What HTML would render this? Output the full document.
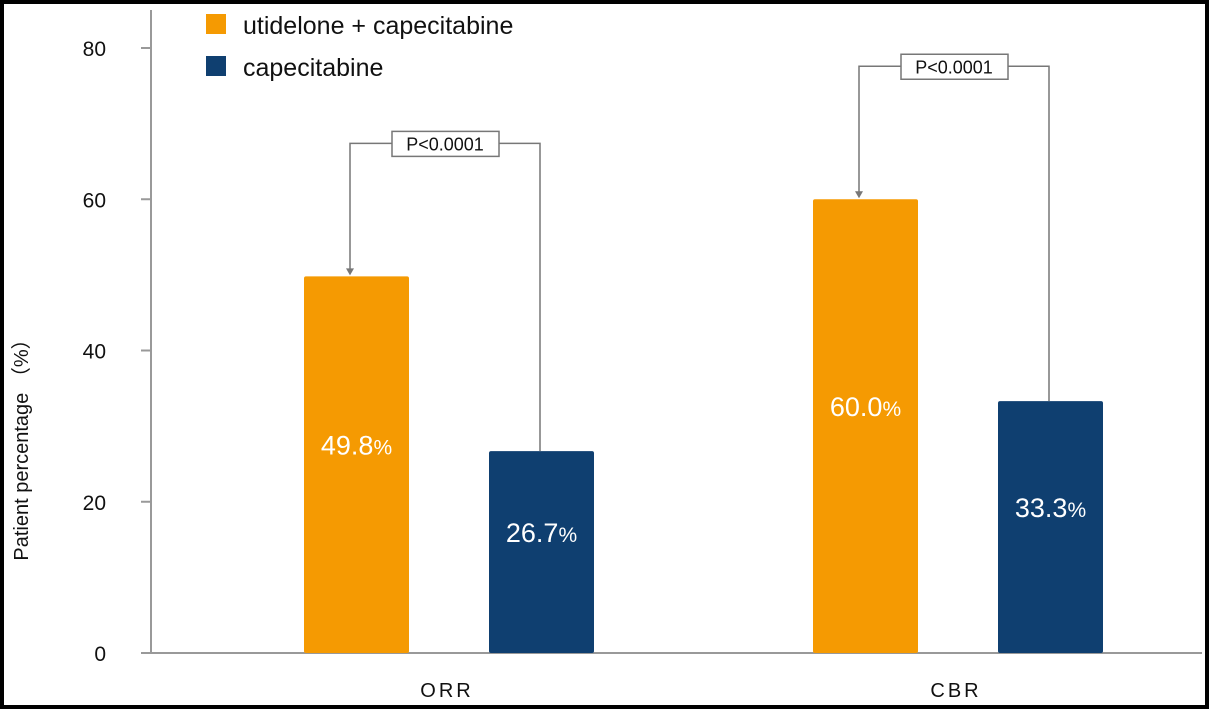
<!DOCTYPE html>
<html><head><meta charset="utf-8"><style>
html,body{margin:0;padding:0;background:#fff}
svg{display:block;font-family:"Liberation Sans",sans-serif}
</style></head><body>
<svg width="1209" height="709" viewBox="0 0 1209 709">
<rect x="2" y="2" width="1205" height="705" fill="#fff" stroke="#000" stroke-width="4"/>
<g id="axes"></g>
<g id="bars"></g>
<g id="ann"></g>
<g>
<rect x="206" y="14" width="20" height="20" fill="#f59a02"/>
<text x="243" y="34" font-size="25" fill="#111">utidelone + capecitabine</text>
<rect x="206" y="56" width="20" height="20" fill="#0f3f70"/>
<text x="243" y="76" font-size="25" fill="#111">capecitabine</text>
</g>
<text transform="translate(28,445) rotate(-90)" font-size="20" fill="#111" text-anchor="middle">Patient percentage （%）</text>
</svg>
<script>
const categories=["ORR","CBR"];
const comboValues=[49.8,60.0];
const capeValues=[26.7,33.3];
const yTicks=[0,20,40,60,80];
const pLabels=["P<0.0001","P<0.0001"];
const NS="http://www.w3.org/2000/svg";
const y0=653,y80=48;
function yS(v){return y0-(y0-y80)*v/80;}
const groupCenters=[449,958];
function mk(p,t,a){const e=document.createElementNS(NS,t);for(const k in a)e.setAttribute(k,a[k]);p.appendChild(e);return e;}
const axes=document.getElementById('axes'),bars=document.getElementById('bars'),ann=document.getElementById('ann');
let l=mk(axes,'line',{x1:151,y1:10,x2:151,y2:y0,stroke:'#999','stroke-width':2});


l=mk(axes,'line',{x1:141,y1:y0,x2:1202,y2:y0,stroke:'#999','stroke-width':2});


yTicks.forEach(v=>{
 if(v>0){const t=mk(axes,'line',{x1:141,y1:yS(v),x2:151,y2:yS(v),stroke:'#999','stroke-width':2});
 
 }
 const tx=mk(axes,'text',{x:106,y:yS(v)+8,'font-size':21,'text-anchor':'end',fill:'#111'});
 tx.textContent=v;
 
 
});
categories.forEach((c,i)=>{
 const cx=groupCenters[i];
 const t=mk(axes,'text',{x:cx-2,y:697,'font-size':20,'text-anchor':'middle',fill:'#111','letter-spacing':'3'});
 t.textContent=c;
 
 
 const bw=105;
 const xo=cx-145,xn=cx+40;
 [[xo,comboValues[i],'#f59a02','bar-combo-'+c.toLowerCase()],[xn,capeValues[i],'#0f3f70','bar-cape-'+c.toLowerCase()]].forEach(([x,v,col,nm])=>{
  const r=mk(bars,'rect',{x:x,y:yS(v),width:bw,height:y0-yS(v),fill:col,rx:2});
  
  
  const ty=(yS(v)+y0)/2-10;
  const tx=mk(bars,'text',{x:x+bw/2,y:ty,'font-size':27,'text-anchor':'middle',fill:'#fff'});
  tx.innerHTML=v.toFixed(1)+'<tspan font-size="21">%</tspan>';
  
  
 });
 const ax=xo+46,bx=xn+51,top=Math.min(yS(comboValues[i]),yS(capeValues[i]))-133;
 const pth=mk(ann,'path',{d:`M${ax},${yS(comboValues[i])-4}V${top}H${bx}V${yS(capeValues[i])}`,fill:'none',stroke:'#777','stroke-width':1.5});
 
 
 const ar=mk(ann,'path',{d:`M${ax-4},${yS(comboValues[i])-8}L${ax+4},${yS(comboValues[i])-8}L${ax},${yS(comboValues[i])-1}Z`,fill:'#777'});
 
 
 const mx=(ax+bx)/2;
 const bx2=mk(ann,'rect',{x:mx-53,y:top-12,width:107,height:25,fill:'#fff',stroke:'#777','stroke-width':1.5});
 
 
 const pt=mk(ann,'text',{x:mx,y:top+7,'font-size':18,'text-anchor':'middle',fill:'#111'});
 pt.textContent=pLabels[i];
 
 
});
</script>
</body></html>
